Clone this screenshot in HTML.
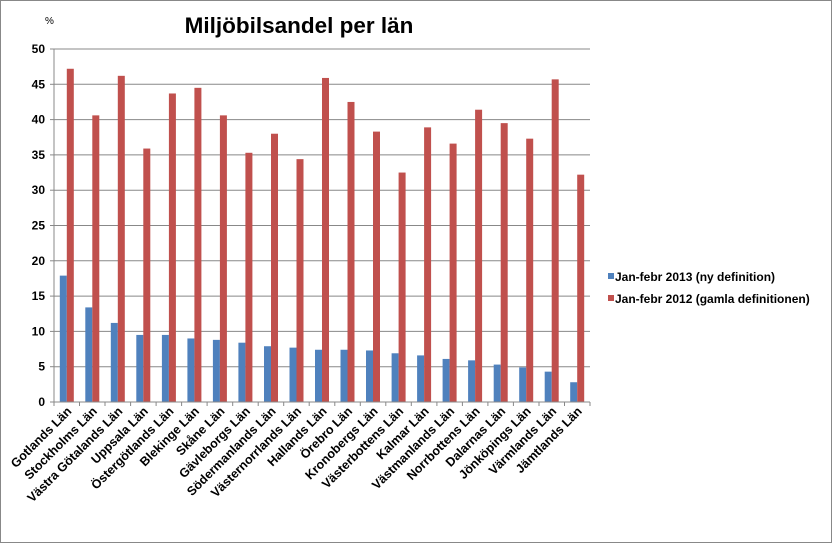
<!DOCTYPE html>
<html><head><meta charset="utf-8"><style>body{margin:0;background:#fff}svg{display:block}</style></head><body>
<svg width="832" height="543" xmlns="http://www.w3.org/2000/svg" font-family="Liberation Sans, sans-serif">
<rect x="0.5" y="0.5" width="831" height="542" fill="#fff" stroke="#888" stroke-width="1"/>
<text x="45" y="24" font-size="10">%</text>
<text x="299" y="33" font-size="22.5" font-weight="bold" text-anchor="middle">Miljöbilsandel per län</text>
<g stroke="#888" stroke-width="1">
<line x1="54" x2="590" y1="49" y2="49"/><line x1="54" x2="590" y1="84.3" y2="84.3"/><line x1="54" x2="590" y1="119.6" y2="119.6"/><line x1="54" x2="590" y1="154.9" y2="154.9"/><line x1="54" x2="590" y1="190.2" y2="190.2"/><line x1="54" x2="590" y1="225.5" y2="225.5"/><line x1="54" x2="590" y1="260.8" y2="260.8"/><line x1="54" x2="590" y1="296.1" y2="296.1"/><line x1="54" x2="590" y1="331.4" y2="331.4"/><line x1="54" x2="590" y1="366.7" y2="366.7"/>
<line x1="50" x2="54" y1="49" y2="49"/><line x1="50" x2="54" y1="84.3" y2="84.3"/><line x1="50" x2="54" y1="119.6" y2="119.6"/><line x1="50" x2="54" y1="154.9" y2="154.9"/><line x1="50" x2="54" y1="190.2" y2="190.2"/><line x1="50" x2="54" y1="225.5" y2="225.5"/><line x1="50" x2="54" y1="260.8" y2="260.8"/><line x1="50" x2="54" y1="296.1" y2="296.1"/><line x1="50" x2="54" y1="331.4" y2="331.4"/><line x1="50" x2="54" y1="366.7" y2="366.7"/><line x1="50" x2="54" y1="402" y2="402"/>
</g>
<g font-size="12" font-weight="bold" text-anchor="end">
<text x="45" y="53">50</text><text x="45" y="88.3">45</text><text x="45" y="123.6">40</text><text x="45" y="158.9">35</text><text x="45" y="194.2">30</text><text x="45" y="229.5">25</text><text x="45" y="264.8">20</text><text x="45" y="300.1">15</text><text x="45" y="335.4">10</text><text x="45" y="370.7">5</text><text x="45" y="406">0</text>
</g>
<g transform="translate(0,402) scale(1,-7.06)" fill="#4f81bd">
<rect x="59.8" y="0" width="7" height="17.9"/><rect x="85.3" y="0" width="7" height="13.4"/><rect x="110.8" y="0" width="7" height="11.2"/><rect x="136.3" y="0" width="7" height="9.5"/><rect x="161.9" y="0" width="7" height="9.5"/><rect x="187.4" y="0" width="7" height="9.0"/><rect x="212.9" y="0" width="7" height="8.8"/><rect x="238.4" y="0" width="7" height="8.4"/><rect x="264" y="0" width="7" height="7.9"/><rect x="289.5" y="0" width="7" height="7.7"/><rect x="315" y="0" width="7" height="7.4"/><rect x="340.5" y="0" width="7" height="7.4"/><rect x="366" y="0" width="7" height="7.3"/><rect x="391.6" y="0" width="7" height="6.9"/><rect x="417.1" y="0" width="7" height="6.6"/><rect x="442.6" y="0" width="7" height="6.1"/><rect x="468.1" y="0" width="7" height="5.9"/><rect x="493.7" y="0" width="7" height="5.3"/><rect x="519.2" y="0" width="7" height="4.9"/><rect x="544.7" y="0" width="7" height="4.3"/><rect x="570.2" y="0" width="7" height="2.8"/>
</g>
<g transform="translate(0,402) scale(1,-7.06)" fill="#c0504d">
<rect x="66.8" y="0" width="7" height="47.2"/><rect x="92.3" y="0" width="7" height="40.6"/><rect x="117.8" y="0" width="7" height="46.2"/><rect x="143.3" y="0" width="7" height="35.9"/><rect x="168.9" y="0" width="7" height="43.7"/><rect x="194.4" y="0" width="7" height="44.5"/><rect x="219.9" y="0" width="7" height="40.6"/><rect x="245.4" y="0" width="7" height="35.3"/><rect x="271" y="0" width="7" height="38.0"/><rect x="296.5" y="0" width="7" height="34.4"/><rect x="322" y="0" width="7" height="45.9"/><rect x="347.5" y="0" width="7" height="42.5"/><rect x="373" y="0" width="7" height="38.3"/><rect x="398.6" y="0" width="7" height="32.5"/><rect x="424.1" y="0" width="7" height="38.9"/><rect x="449.6" y="0" width="7" height="36.6"/><rect x="475.1" y="0" width="7" height="41.4"/><rect x="500.7" y="0" width="7" height="39.5"/><rect x="526.2" y="0" width="7" height="37.3"/><rect x="551.7" y="0" width="7" height="45.7"/><rect x="577.2" y="0" width="7" height="32.2"/>
</g>
<g stroke="#888" stroke-width="1">
<line x1="54" x2="590" y1="402" y2="402"/><line x1="54" x2="54" y1="49" y2="406"/>
<line x1="79.5" x2="79.5" y1="402" y2="406"/><line x1="105" x2="105" y1="402" y2="406"/><line x1="130.6" x2="130.6" y1="402" y2="406"/><line x1="156.1" x2="156.1" y1="402" y2="406"/><line x1="181.6" x2="181.6" y1="402" y2="406"/><line x1="207.1" x2="207.1" y1="402" y2="406"/><line x1="232.7" x2="232.7" y1="402" y2="406"/><line x1="258.2" x2="258.2" y1="402" y2="406"/><line x1="283.7" x2="283.7" y1="402" y2="406"/><line x1="309.2" x2="309.2" y1="402" y2="406"/><line x1="334.8" x2="334.8" y1="402" y2="406"/><line x1="360.3" x2="360.3" y1="402" y2="406"/><line x1="385.8" x2="385.8" y1="402" y2="406"/><line x1="411.3" x2="411.3" y1="402" y2="406"/><line x1="436.9" x2="436.9" y1="402" y2="406"/><line x1="462.4" x2="462.4" y1="402" y2="406"/><line x1="487.9" x2="487.9" y1="402" y2="406"/><line x1="513.4" x2="513.4" y1="402" y2="406"/><line x1="539" x2="539" y1="402" y2="406"/><line x1="564.5" x2="564.5" y1="402" y2="406"/><line x1="590" x2="590" y1="402" y2="406"/>
</g>
<g font-size="12.5" font-weight="bold" text-anchor="end">
<text transform="translate(72.3,412) rotate(-45)">Gotlands Län</text>
<text transform="translate(97.8,412) rotate(-45)">Stockholms Län</text>
<text transform="translate(123.3,412) rotate(-45)">Västra Götalands Län</text>
<text transform="translate(148.8,412) rotate(-45)">Uppsala Län</text>
<text transform="translate(174.4,412) rotate(-45)">Östergötlands Län</text>
<text transform="translate(199.9,412) rotate(-45)">Blekinge Län</text>
<text transform="translate(225.4,412) rotate(-45)">Skåne Län</text>
<text transform="translate(250.9,412) rotate(-45)">Gävleborgs Län</text>
<text transform="translate(276.5,412) rotate(-45)">Södermanlands Län</text>
<text transform="translate(302,412) rotate(-45)">Västernorrlands Län</text>
<text transform="translate(327.5,412) rotate(-45)">Hallands Län</text>
<text transform="translate(353,412) rotate(-45)">Örebro Län</text>
<text transform="translate(378.5,412) rotate(-45)">Kronobergs Län</text>
<text transform="translate(404.1,412) rotate(-45)">Västerbottens Län</text>
<text transform="translate(429.6,412) rotate(-45)">Kalmar Län</text>
<text transform="translate(455.1,412) rotate(-45)">Västmanlands Län</text>
<text transform="translate(480.6,412) rotate(-45)">Norrbottens Län</text>
<text transform="translate(506.2,412) rotate(-45)">Dalarnas Län</text>
<text transform="translate(531.7,412) rotate(-45)">Jönköpings Län</text>
<text transform="translate(557.2,412) rotate(-45)">Värmlands Län</text>
<text transform="translate(582.7,412) rotate(-45)">Jämtlands Län</text>
</g>
<rect x="608" y="273" width="6" height="6" fill="#4f81bd"/><text x="615" y="281" font-size="12" font-weight="bold">Jan-febr 2013 (ny definition)</text>
<rect x="608" y="295" width="6" height="6" fill="#c0504d"/><text x="615" y="303" font-size="12" font-weight="bold">Jan-febr 2012 (gamla definitionen)</text>
</svg></body></html>
